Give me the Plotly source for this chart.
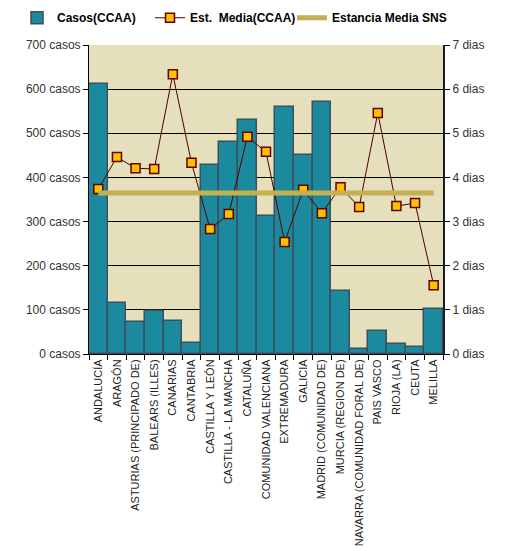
import plotly.graph_objects as go

comunidades = [
    "ANDALUCÍA", "ARAGÓN", "ASTURIAS (PRINCIPADO DE)", "BALEARS (ILLES)",
    "CANARIAS", "CANTABRIA", "CASTILLA Y LEÓN", "CASTILLA - LA MANCHA",
    "CATALUÑA", "COMUNIDAD VALENCIANA", "EXTREMADURA", "GALICIA",
    "MADRID (COMUNIDAD DE)", "MURCIA (REGION DE)", "NAVARRA (COMUNIDAD FORAL DE)",
    "PAIS VASCO", "RIOJA (LA)", "CEUTA", "MELILLA",
]
casos = [612, 115, 72, 97, 75, 25, 428, 480, 530, 312, 560, 451, 571, 143, 11, 52, 23, 16, 102]
estancia_media = [3.74, 4.46, 4.21, 4.19, 6.34, 4.33, 2.83, 3.17, 4.92, 4.58,
                  2.54, 3.72, 3.19, 3.78, 3.33, 5.46, 3.35, 3.42, 1.56]
estancia_sns = [3.65] * len(comunidades)

font_family = "Liberation Sans, Arial, sans-serif"

fig = go.Figure()
fig.add_trace(go.Bar(
    x=comunidades, y=casos, name="<b>Casos(CCAA)</b>",
    marker=dict(color="#1b8a9e", line=dict(color="#3d4f5c", width=1.5)),
    yaxis="y", legend="legend",
))
fig.add_trace(go.Scatter(
    x=comunidades, y=estancia_media, name="<b>Est.  Media(CCAA)</b>",
    mode="lines+markers",
    line=dict(color="#4b0000", width=1),
    marker=dict(symbol="square", size=9, color="#ffc000",
                line=dict(color="#600000", width=1.5)),
    yaxis="y2", legend="legend2",
))
fig.add_trace(go.Scatter(
    x=comunidades, y=estancia_sns, name="<b>Estancia Media SNS</b>",
    mode="lines", line=dict(color="#c4b050", width=5),
    yaxis="y2", legend="legend3",
))

# the page body adds 8px around the figure, so the figure is 8px smaller
W, H = 503, 543
leg = dict(
    orientation="h", xref="container", yref="container",
    y=0.982, xanchor="left", yanchor="middle",
    font=dict(family=font_family, size=12, color="black"),
    bgcolor="rgba(0,0,0,0)", itemwidth=30,
)

fig.update_layout(
    width=W, height=H,
    margin=dict(l=81, r=68, t=37, b=197, autoexpand=False),
    paper_bgcolor="white", plot_bgcolor="#e6dfbb",
    font=dict(family=font_family, size=12, color="#333333"),
    bargap=0,
    showlegend=True,
    legend=dict(leg, x=9 / W),
    legend2=dict(leg, x=142 / W),
    legend3=dict(leg, x=284 / W),
    xaxis=dict(
        range=[-0.5, len(comunidades) - 0.5],
        tickangle=-90, tickfont=dict(size=11, color="#222222"),
        ticks="outside", tickson="boundaries", ticklen=5, tickcolor="black",
        showline=True, linecolor="black", linewidth=1,
        showgrid=False, automargin=False,
    ),
    yaxis=dict(
        range=[0, 700], dtick=100, ticksuffix=" casos",
        ticks="outside", ticklen=5, tickcolor="black",
        showline=True, linecolor="black", linewidth=1,
        showgrid=True, gridcolor="black", gridwidth=1,
        zeroline=False, tickfont=dict(size=12, color="#333333"),
        automargin=False,
    ),
    yaxis2=dict(
        range=[0, 7], dtick=1, ticksuffix=" dias", overlaying="y", side="right",
        ticks="outside", ticklen=5, tickcolor="black",
        showline=True, linecolor="#1a1a2a", linewidth=2,
        showgrid=False, zeroline=False, tickfont=dict(size=12, color="#333333"),
        automargin=False,
    ),
)

fig.write_html("out.html")
